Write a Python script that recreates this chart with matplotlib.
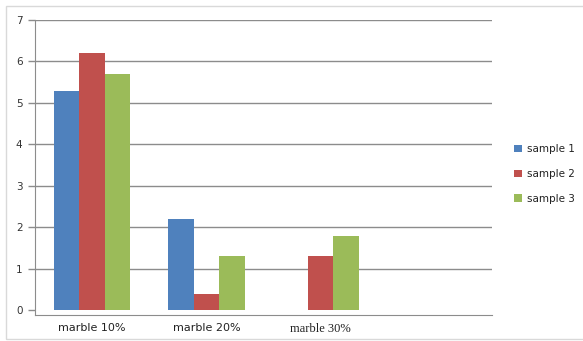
import matplotlib.pyplot as plt
from matplotlib.patches import Rectangle
import numpy as np

categories = ["marble 10%", "marble 20%", "marble 30%"]
series_names = ["sample 1", "sample 2", "sample 3"]
sample1 = [5.3, 2.2, 0.0]
sample2 = [6.2, 0.4, 1.3]
sample3 = [5.7, 1.3, 1.8]
y_ticks = [0, 1, 2, 3, 4, 5, 6, 7]

colors = ["#4F81BD", "#C0504D", "#9BBB59"]

W, H = 583, 341
fig = plt.figure(figsize=(W / 100, H / 100), dpi=100)
fig.patch.set_facecolor("white")

# light outer frame
fig.patches.append(Rectangle((6 / W, 2 / H), 580 / W, 333 / H, transform=fig.transFigure,
                             fill=False, edgecolor="#d9d9d9", linewidth=1.0))

ax = fig.add_axes([35 / W, (H - 314.5) / H, (492 - 35) / W, (314.5 - 20) / H])

x = np.arange(len(categories))
bw = 0.223
for i, (vals, name) in enumerate(zip([sample1, sample2, sample3], series_names)):
    ax.bar(x + (i - 1) * bw, vals, width=bw, color=colors[i], label=name,
           edgecolor="none", zorder=3)

ax.set_xlim(-0.5, 3.5)
ax.set_ylim(-0.1, 7)
ax.set_yticks(y_ticks)
ax.set_yticklabels([str(t) for t in y_ticks], fontsize=7.5, color="#333333",
                   family="DejaVu Sans")
for t in y_ticks[1:]:
    ax.axhline(t, color="#8c8c8c", linewidth=1.0, zorder=1)

ax.set_xticks(x)
ax.set_xticklabels(categories, fontsize=8, color="#222222")
ax.get_xticklabels()[2].set_family("Liberation Serif")
ax.get_xticklabels()[2].set_fontsize(9)
for lab in ax.get_xticklabels()[:2]:
    lab.set_family("DejaVu Sans")
ax.tick_params(axis="x", length=0, pad=6)
ax.tick_params(axis="y", length=5, width=1.0, color="#8c8c8c", pad=4)

for s in ["top", "right"]:
    ax.spines[s].set_visible(False)
ax.spines["left"].set_color("#8c8c8c")
ax.spines["bottom"].set_color("#8c8c8c")
ax.spines["left"].set_bounds(-0.1, 7)

leg = fig.legend(loc="center left", bbox_to_anchor=(505 / W, (H - 174) / H),
                 frameon=False, fontsize=7.5, handlelength=0.7, handleheight=0.7,
                 labelspacing=1.4, handletextpad=0.5)
for t in leg.get_texts():
    t.set_color("#222222")

fig.savefig("out.png", dpi=100, facecolor="white")
